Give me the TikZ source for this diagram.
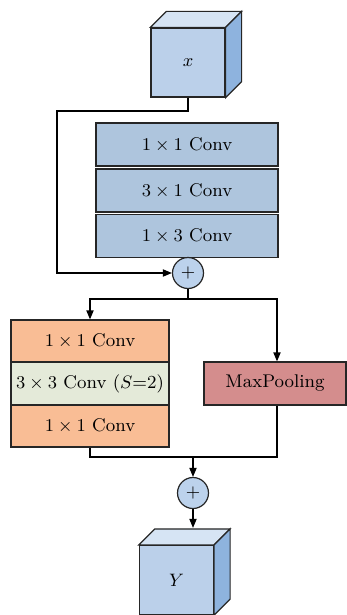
\documentclass[tikz,border=0pt]{standalone}
\usepackage{amsmath}
\usetikzlibrary{calc,arrows.meta}
\usetikzlibrary{positioning}

\definecolor{cubefront}{HTML}{BBD0EA}
\definecolor{cubetop}{HTML}{D6E4F4}
\definecolor{cubeside}{HTML}{8EB3DE}
\definecolor{convblue}{HTML}{AEC5DD}
\definecolor{convorange}{HTML}{F9BD95}
\definecolor{convgreen}{HTML}{E4EAD9}
\definecolor{poolred}{HTML}{D48D8D}
\definecolor{addblue}{HTML}{BCD2EC}

\begin{document}
\begin{tikzpicture}[x=0.5pt, y=-0.5pt,
  every node/.style={font=\fontsize{9.2}{11}\selectfont},
  line width=0.6pt,
  >={Triangle[length=4.5pt, width=3.6pt]}
]

% Block styles
\tikzset{
  cube/.style={
    rectangle, draw=black!85, fill=cubefront,
    minimum width=37pt, minimum height=34.5pt, inner sep=0pt
  },
  convbox/.style={
    rectangle, draw=black!85, fill=convblue,
    minimum width=91pt, minimum height=21.5pt, inner sep=0pt
  },
  redbox/.style={
    rectangle, draw=black!85,
    minimum width=79pt, minimum height=21pt, inner sep=0pt
  },
  addop/.style={
    circle, draw=black!85, fill=addblue,
    minimum size=15.5pt, inner sep=0pt
  }
}

\useasboundingbox (0,0) rectangle (347,615);

% ---- Input / output cubes ----
\node[cube] (xin)  at (188,62.5) {$x$};
\node[cube] (yout) at (176.5,580) {$Y$};

\foreach \c in {xin, yout} {
  \filldraw[fill=cubetop, draw=black!85]
    (\c.north west) -- ++(16,-16) -- ($(\c.north east)+(16,-16)$)
    -- (\c.north east) -- cycle;
  \filldraw[fill=cubeside, draw=black!85]
    (\c.north east) -- ++(16,-16) -- ($(\c.south east)+(16,-16)$)
    -- (\c.south east) -- cycle;
}

% ---- Conv stack ----
\node[convbox] (conv1) at (187,144.5) {$1\times1$ Conv};
\node[convbox] (conv2) at (187,190.5) {$3\times1$ Conv};
\node[convbox] (conv3) at (187,236)   {$1\times3$ Conv};

% ---- Reduction branch ----
\node[redbox, fill=convorange] (red1) at (90,341)   {$1\times1$ Conv};
\node[redbox, fill=convgreen]  (red2) at (90,383.5) {$3\times3$ Conv ($S$=2)};
\node[redbox, fill=convorange] (red3) at (90,426)   {$1\times1$ Conv};

\node[redbox, fill=poolred, minimum width=71pt, minimum height=21.5pt]
  (pool) at (275,383.5) {MaxPooling};

% ---- Add nodes ----
\node[addop] (add1) at (188,273) {$+$};
\node[addop] (add2) at (193,493) {$+$};

\coordinate (skip)  at (57,111);
\coordinate (split) at (188,299);
\coordinate (merge) at (193,457);
\coordinate (ytop)  at ($(yout.north)+(0,-17)$);

% ---- Edges ----
\draw[->] (xin.south) |- (skip) |- (add1);
\draw (add1) -- (split);
\draw[->] (split) -| (red1.north);
\draw[->] (split) -| ([xshift=1pt]pool.north);

\draw (red3.south) |- (merge) -| ([xshift=1pt]pool.south);
\draw[->] (merge) -- (add2);
\draw[->] (add2) -- (add2 |- ytop);

\end{tikzpicture}
\end{document}
